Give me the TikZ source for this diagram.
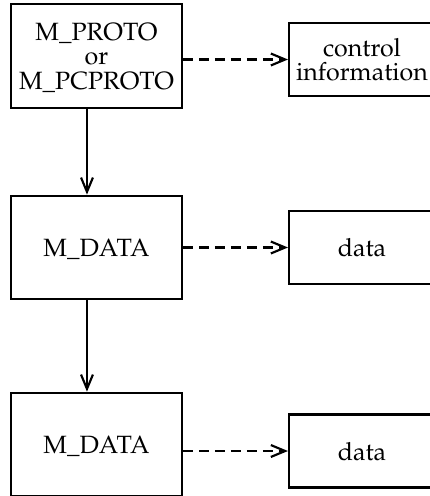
\documentclass[tikz,border=0pt]{standalone}
\usepackage[T1]{fontenc}
\usepackage{mathpazo}
\usetikzlibrary{arrows.meta, positioning, calc}

\begin{document}
\begin{tikzpicture}[x=0.42pt, y=-0.42pt,
    font=\fontsize{10.5}{10.3}\selectfont,
    msgbox/.style={draw, line width=0.9pt, align=center, inner sep=0pt,
      text depth=0pt, minimum width=71.8pt, minimum height=43.5pt},
    bufbox/.style={draw, line width=0.9pt, align=center, inner sep=0pt,
      minimum width=61.3pt, minimum height=30.7pt},
    flow/.style={line width=0.9pt, -{Straight Barb[length=6pt, width=5pt]}},
    ptr/.style={flow, dash pattern=on 4.2pt off 2.5pt}]
  \clip (0,0) rectangle (430,496);
  % message blocks
  \node[msgbox] (proto) at (96.5,56) {M\_PROTO\\or\\M\_PCPROTO};
  \node[msgbox] (data1) at (96.5,247.5) {M\_DATA};
  \node[msgbox] (data2) at (96.5,444.5) {M\_DATA};
  % buffers
  \node[bufbox] (ctl) at (362,59.5) {control\\information};
  \node[bufbox] (buf1) at (362,247.5) {data};
  \node[bufbox] (buf2) at (362,451) {data};
  % b_cont links
  \draw[flow] ([xshift=-4pt]proto.south) -- ([xshift=-4pt]data1.north);
  \draw[flow] ([xshift=-4pt]data1.south) -- ([xshift=-4pt]data2.north);
  % b_rptr links
  \draw[ptr] (ctl.west -| proto.east) -- (ctl.west);
  \draw[ptr] (buf1.west -| data1.east) -- (buf1.west);
  \draw[ptr] (buf2.west -| data2.east) -- (buf2.west);
\end{tikzpicture}
\end{document}
